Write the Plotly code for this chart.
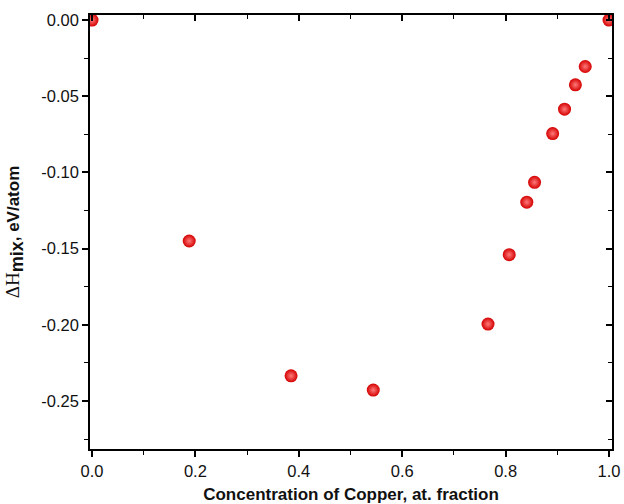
import plotly.graph_objects as go

# Mixing enthalpy vs copper fraction
cu_fraction = [0.0, 0.188, 0.385, 0.544, 0.766, 0.807, 0.841, 0.856, 0.891, 0.914, 0.935, 0.954, 1.0]
dh_mix = [0.0, -0.145, -0.2335, -0.2428, -0.1995, -0.154, -0.1195, -0.1065, -0.0745, -0.0585, -0.0425, -0.0305, 0.0]

x_ticks = [0.0, 0.2, 0.4, 0.6, 0.8, 1.0]
x_tick_text = ["0.0", "0.2", "0.4", "0.6", "0.8", "1.0"]
y_ticks = [0.0, -0.05, -0.10, -0.15, -0.20, -0.25]
y_tick_text = ["0.00", "-0.05", "-0.10", "-0.15", "-0.20", "-0.25"]
x_minor = [0.1, 0.3, 0.5, 0.7, 0.9]
y_minor = [-0.025, -0.075, -0.125, -0.175, -0.225, -0.275]

x_range = [-0.0039, 1.0058]
y_range = [-0.2815, 0.0033]

fig = go.Figure()
fig.add_trace(go.Scatter(
    x=cu_fraction, y=dh_mix, mode="markers",
    marker=dict(size=13, color="#d40000",
                gradient=dict(type="radial", color="#ff7a7a"),
                line=dict(width=0)),
    showlegend=False, hoverinfo="skip",
))
# empty trace to anchor the mirrored top/right axes
fig.add_trace(go.Scatter(x=[], y=[], xaxis="x2", yaxis="y2", showlegend=False))

axis_font = dict(family="Liberation Sans, Arial", size=16.5, color="#111")
title_font = dict(family="Liberation Sans, Arial", size=17, color="#111")
common = dict(showgrid=False, zeroline=False, showline=True, linecolor="black",
              linewidth=1.6, tickcolor="black", tickwidth=1.6, automargin=False)

fig.update_layout(
    width=624, height=504,
    margin=dict(l=90, r=12, t=15, b=55, autoexpand=False),
    paper_bgcolor="white", plot_bgcolor="white",
    xaxis=dict(range=x_range, tickvals=x_ticks, ticktext=x_tick_text,
               ticks="outside", ticklen=6, tickfont=axis_font,
               minor=dict(tickvals=x_minor, ticks="outside",
                          ticklen=4, tickcolor="black", tickwidth=1.4),
               title=dict(text="<b>Concentration of Copper, at. fraction</b>",
                          font=title_font, standoff=12),
               **common),
    yaxis=dict(range=y_range, tickvals=y_ticks, ticktext=y_tick_text,
               ticks="outside", ticklen=6, tickfont=axis_font,
               minor=dict(tickvals=y_minor, ticks="outside",
                          ticklen=4, tickcolor="black", tickwidth=1.4),
               title=dict(text="<span style='font-family:Liberation Serif, Times New Roman;font-size:19px'>ΔH</span>"
                               "<sub><span style='font-size:18px'><b>mix</b></span></sub><b>, eV/atom</b>",
                          font=title_font, standoff=17),
               **common),
    xaxis2=dict(range=x_range, overlaying="x", side="top", anchor="y",
                tickvals=x_ticks, showticklabels=False, ticks="inside", ticklen=6,
                minor=dict(tickvals=x_minor, ticks="inside",
                           ticklen=4, tickcolor="black", tickwidth=1.4),
                **common),
    yaxis2=dict(range=y_range, overlaying="y", side="right", anchor="x",
                tickvals=y_ticks, showticklabels=False, ticks="inside", ticklen=6,
                minor=dict(tickvals=y_minor, ticks="inside",
                           ticklen=4, tickcolor="black", tickwidth=1.4),
                **common),
)

fig.write_html("out.html")
